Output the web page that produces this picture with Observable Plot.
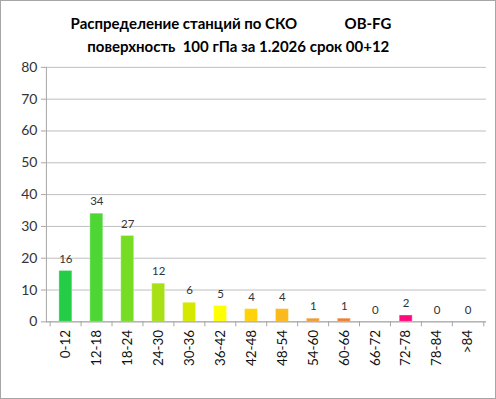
<!DOCTYPE html>
<html><head><meta charset="utf-8">
<script src="https://cdn.jsdelivr.net/npm/d3@7"></script>
<script src="https://cdn.jsdelivr.net/npm/@observablehq/plot@0.6"></script>
<style>
html,body{margin:0;padding:0;background:#fff;}
#wrap{position:relative;width:496px;height:399px;box-sizing:border-box;border:1px solid #a6a6a6;overflow:hidden;font-family:Lato,"Open Sans",sans-serif;}
#title{position:absolute;left:0;top:11px;width:460px;text-align:center;font-weight:bold;font-size:15px;line-height:23px;color:#000;white-space:pre;z-index:2;}
#chart{position:absolute;left:-1px;top:-1px;}
</style></head>
<body>
<div id="wrap">
<div id="title">Распределение станций по СКО             OB-FG
    поверхность  100 гПа за 1.2026 срок 00+12</div>
<div id="chart"></div>
</div>
<script>
const categories = ["0-12","12-18","18-24","24-30","30-36","36-42","42-48","48-54","54-60","60-66","66-72","72-78","78-84",">84"];
const counts = [16,34,27,12,6,5,4,4,1,1,0,2,0,0];
const colors = ["#25cc46","#4dd634","#76dd24","#a8e016","#d5e800","#ffff00","#ffd20a","#fbba1c","#f59a32","#f07f32","#ee6060","#ff0a7a","#cccccc","#cccccc"];
const yTicks = [0,10,20,30,40,50,60,70,80];

const data = categories.map((c,i)=>({cat:c, n:counts[i], col:colors[i]}));
const W = 496, H = 399, ml = 46, mr = 9;
const halfStep = (W - ml - mr) / categories.length / 2;
const font = "Lato, 'Open Sans', sans-serif";

const chart = Plot.plot({
  width: W, height: H,
  marginTop: 67, marginBottom: 77, marginLeft: ml, marginRight: mr,
  style: {fontFamily: font, fontSize: "13px", color: "#333", background: "transparent"},
  x: {domain: categories, paddingInner: 0.59, paddingOuter: 0.295, label: null},
  y: {domain: [0, 80], label: null},
  color: {type: "identity"},
  marks: [
    Plot.gridY(yTicks, {stroke: "#bfbfbf", strokeOpacity: 1}),
    Plot.barY(data, {x: "cat", y: "n", fill: "col", stroke: "#ffffff", strokeOpacity: 0.35, strokeWidth: 1}),
    Plot.text(data, {x: "cat", y: "n", text: d => String(d.n), dy: -12, fill: "#333", fontSize: 11.5}),
    Plot.ruleY([0], {stroke: "#a6a6a6"}),
    Plot.frame({anchor: "left", stroke: "#a6a6a6"}),
    Plot.axisY({ticks: yTicks, tickSize: 5, tickPadding: 4, stroke: "#a6a6a6", fill: "#333", fontSize: 14, label: null}),
    Plot.axisX({tickSize: 5, dx: -halfStep, tickFormat: () => "", stroke: "#a6a6a6", label: null}),
    Plot.axisX({ticks: [categories[categories.length-1]], tickSize: 5, dx: halfStep, tickFormat: () => "", stroke: "#a6a6a6", label: null}),
    Plot.axisX({tickSize: 0, tickPadding: 8, tickRotate: -90, fill: "#111", fontSize: 13.5, label: null})
  ]
});
document.getElementById("chart").appendChild(chart);
</script>
</body></html>
